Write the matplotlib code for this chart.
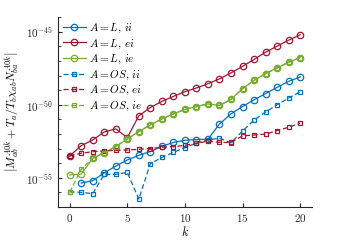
"""Residual of the A0k relation against k, log scale."""

import numpy as np
import matplotlib as mpl

mpl.use("Agg")
import matplotlib.pyplot as plt
from matplotlib.ticker import LogLocator, NullFormatter

plt.rcParams["mathtext.fontset"] = "cm"
plt.rcParams["font.family"] = "serif"
plt.rcParams["font.serif"] = ["DejaVu Serif"]

k = np.arange(21)

# log10 of the residual
L_ii = [np.nan, -55.36, -55.20, -54.66, -54.20, -53.78, -53.46, -53.20, -52.85, -52.58,
        -52.43, -52.38, -52.36, -51.32, -50.62, -50.12, -49.66, -49.24, -48.81, -48.40, -48.10]
L_ei = [-53.51, -52.80, -52.41, -51.86, -51.65, -52.25, -50.76, -50.19, -49.77, -49.43,
        -49.10, -48.85, -48.56, -48.23, -47.82, -47.37, -46.90, -46.40, -45.99, -45.58, -45.21]
L_ie = [-54.80, -54.75, -53.67, -53.28, -52.87, -52.34, -51.84, -51.38, -50.98, -50.62,
        -50.32, -50.12, -49.94, -50.05, -49.63, -48.90, -48.33, -47.87, -47.48, -47.09, -46.77]
OS_ii = [-55.96, -56.00, -56.08, -54.77, -54.77, -54.63, -56.46, -54.03, -53.61, -53.26,
         -52.93, -52.63, -52.41, -52.29, -52.60, -51.80, -51.05, -50.50, -50.00, -49.54, -49.12]
OS_ei = [-53.51, -53.32, -53.21, -53.16, -53.12, -53.10, -53.05, -53.00, -52.91, -52.87,
         -52.78, -52.65, -52.49, -52.58, -52.58, -52.13, -52.07, -52.01, -51.77, -51.54, -51.26]
OS_ie = [-56.00, -54.42, -53.67, -53.28, -52.87, -52.34, -51.84, -51.38, -50.98, -50.62,
         -50.32, -50.12, -49.94, -50.05, -49.63, -48.90, -48.33, -47.87, -47.48, -47.09, -46.77]

labels = [r"$A = L,\,ii$", r"$A = L,\,ei$", r"$A = L,\,ie$",
          r"$A = OS,\,ii$", r"$A = OS,\,ei$", r"$A = OS,\,ie$"]

BLUE, RED, GREEN = "#0072BD", "#A2142F", "#77AC30"

fig = plt.figure(figsize=(3.44, 2.41), dpi=100)
ax = fig.add_axes([0.169, 0.141, 0.737, 0.788])

series = [
    (L_ii, BLUE, "o", "-"), (L_ei, RED, "o", "-"), (L_ie, GREEN, "o", "-"),
    (OS_ii, BLUE, "s", "--"), (OS_ei, RED, "s", "--"), (OS_ie, GREEN, "s", "--"),
]
for (vals, color, marker, ls), label in zip(series, labels):
    ms = 4.6 if marker == "o" else 3.2
    ax.semilogy(k, 10.0 ** np.array(vals), color=color, marker=marker, ls=ls,
                lw=0.9, ms=ms, mfc="none", mew=0.9, label=label,
                dashes=(4, 2.2) if ls == "--" else (None, None))

ax.set_xlim(-1, 21)
ax.set_ylim(1e-57, 1e-44)
ax.set_xticks([0, 5, 10, 15, 20])
ax.set_yticks([1e-55, 1e-50, 1e-45])
ax.yaxis.set_minor_locator(LogLocator(base=10, subs=(1.0,), numticks=30))
ax.yaxis.set_minor_formatter(NullFormatter())
ax.set_yticklabels([r"$10^{-55}$", r"$10^{-50}$", r"$10^{-45}$"])
ax.set_xticklabels([rf"${v}$" for v in [0, 5, 10, 15, 20]])

for side in ("top", "right"):
    ax.spines[side].set_visible(False)
for side in ("left", "bottom"):
    ax.spines[side].set_color("#262626")
    ax.spines[side].set_linewidth(0.8)
ax.tick_params(which="both", direction="in", labelsize=8, colors="#262626",
               top=False, right=False)
ax.tick_params(which="major", length=3)
ax.tick_params(which="minor", length=2)

ax.set_xlabel(r"$k$", fontsize=9, labelpad=1)
ax.set_ylabel(r"$\left|M_{ab}^{A0k} + T_a/T_b\chi_{ab}N_{ba}^{A0k}\right|$",
              fontsize=8.5, labelpad=3)

ax.legend(loc="upper left", frameon=False, fontsize=8, handlelength=2.1,
          handletextpad=0.3, labelspacing=0.2, borderaxespad=0.0,
          bbox_to_anchor=(0.0, 1.0))

fig.savefig("out.png", dpi=100)
plt.close(fig)
